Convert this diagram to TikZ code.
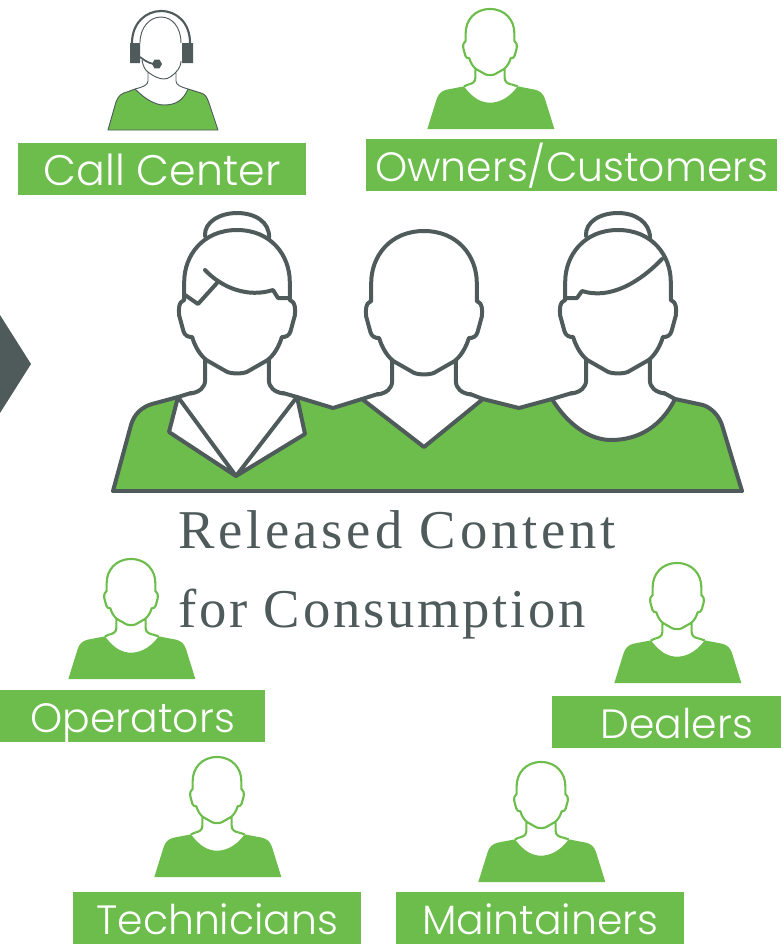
\documentclass[tikz,border=0pt]{standalone}
\usepackage{fontspec}
\newfontfamily\labfont{Poppins Light}
\newfontfamily\titlefonta[LetterSpace=7]{Liberation Serif}
\newfontfamily\titlefontb[LetterSpace=5]{Liberation Serif}
\definecolor{lgreen}{HTML}{6CBD4B}
\definecolor{dgrey}{HTML}{4F5A5B}
\tikzset{
  x=0.75pt,y=-0.75pt,
  lab/.style={fill=lgreen,text=white,font=\labfont\fontsize{30.7}{30.7}\selectfont,inner sep=0pt,anchor=north west,text height=32pt,text depth=7pt,align=center},
  ttl/.style={text=dgrey,inner sep=0pt,anchor=base west},
  bigline/.style={draw=dgrey,line width=3pt,line join=round,line cap=round},
}
% head outline in local units; origin at top of head
\newcommand{\headpath}{(0,0) .. controls (-47,0) and (-73,35) .. (-73,72) -- (-73,97) -- (-75,98) .. controls (-80,100) and (-81,108) .. (-80,118) -- (-74,140) .. controls (-72,146) and (-68,148) .. (-62,148) .. controls (-58,162) and (-50,174) .. (-42,180) -- (-14,196) .. controls (-8,199) and (8,199) .. (14,196) -- (42,180) .. controls (50,174) and (58,162) .. (62,148) .. controls (68,148) and (72,146) .. (74,140) -- (80,118) .. controls (81,108) and (80,100) .. (75,98) -- (73,97) -- (73,72) .. controls (73,35) and (47,0) .. (0,0)}
\newcommand{\necks}{(-44,179) -- (-44,207) .. controls (-44,218) and (-52,224) .. (-64,226) (44,179) -- (44,207) .. controls (44,218) and (52,224) .. (64,226)}
\newcommand{\smallbody}{(-78,232) .. controls (-50,270) and (-25,281) .. (0,281) .. controls (25,281) and (55,270) .. (83,232) -- (135,242) .. controls (150,245) and (160,255) .. (165,270) -- (193,360) -- (-188,360) -- (-160,270) .. controls (-155,255) and (-145,245) .. (-130,242) -- cycle}
\newcommand{\smallperson}[3]{%
  \begin{scope}[shift={(#1,#2)},x=0.25pt,y=-0.25pt]
    \fill[lgreen] \smallbody;
    \draw[#3,line width=1.6pt,line join=round] \headpath \necks;
    \draw[#3,line width=1.6pt,line join=round] (-64,226) -- (-78,232) (64,226) -- (83,232);
  \end{scope}}
\newcommand{\bighead}[2]{%
  \begin{scope}[shift={(#1,#2)},x=0.5425pt,y=-0.5425pt]
    \draw[bigline] \headpath \necks;
  \end{scope}}
\begin{document}
\begin{tikzpicture}
\useasboundingbox (0,0) rectangle (781,951);
% chevron
\fill[dgrey] (0,315) -- (31,364) -- (0,413) -- cycle;
% small people
\smallperson{490}{9}{lgreen}
\smallperson{131}{559}{lgreen}
\smallperson{677}{563}{lgreen}
\smallperson{217}{757}{lgreen}
\smallperson{541}{762}{lgreen}
% call centre person
\begin{scope}[shift={(163,17)}]
  \fill[lgreen,draw=dgrey,line width=0.7pt,line join=round] (-28,72) .. controls (-18,82) and (-8,88) .. (1,88) .. controls (12,88) and (20,84) .. (25,72) -- (38,76) .. controls (42,77) and (44,80) .. (46,86) -- (55,113) -- (-55,113) -- (-47,85) .. controls (-45,79) and (-41,76) .. (-36,75) -- cycle;
  \draw[dgrey,line width=0.7pt,line join=round] (-21,43) .. controls (-20,49) and (-18,53) .. (-15,55) .. controls (-10,59) and (-4,62) .. (1,62) .. controls (6,62) and (10,58) .. (13,55) .. controls (16,52) and (18,48) .. (18,44)
    (-15,55) -- (-15,64) .. controls (-15,68) and (-20,70) .. (-28,72)
    (13,55) -- (13,64) .. controls (13,68) and (18,70) .. (25,72);
  \draw[dgrey,line width=0.7pt] (-23,26) .. controls (-23,10) and (-13,0) .. (-2,0) .. controls (9,0) and (18,10) .. (18,26);
  \draw[dgrey,line width=1.6pt] (-31,26) .. controls (-31,6) and (-17,-6) .. (-2,-6) .. controls (14,-6) and (27,6) .. (27,26);
  \fill[dgrey] (-33,26) rectangle (-23,46) (19,26) rectangle (30,46);
  \draw[dgrey,line width=1.3pt] (-23,40) .. controls (-15,46) and (-12,47) .. (-6,47);
  \fill[dgrey] (-6,47) ++(5,0) -- ++(-2.5,4.3) -- ++(-5,0) -- ++(-2.5,-4.3) -- ++(2.5,-4.3) -- ++(5,0) -- cycle;
\end{scope}
% big people: body
\fill[lgreen] (113,491) -- (131,425) .. controls (134,414) and (142,407) .. (152,404) -- (178,397) -- (169,432) -- (236,476) -- (305,434) -- (297,397) -- (333,408) -- (362,399) -- (424,447) -- (483,399) -- (519,408) -- (552,399) .. controls (568,425) and (590,440) .. (611,440) .. controls (640,440) and (662,425) .. (675,399) -- (703,405) .. controls (712,408) and (719,416) .. (722,425) -- (742,491) -- cycle;
\fill[white] (178,397) -- (169,432) -- (236,476) -- cycle (297,397) -- (305,434) -- (236,476) -- cycle;
\draw[bigline] (297,397) -- (333,408) -- (362,399) -- (424,447) -- (483,399) -- (519,408) -- (552,399) .. controls (568,425) and (590,440) .. (611,440) .. controls (640,440) and (662,425) .. (675,399) -- (703,405) .. controls (712,408) and (719,416) .. (722,425) -- (742,491);
\draw[bigline] (113,491) -- (131,425) .. controls (134,414) and (142,407) .. (152,404) -- (178,397) -- (169,432) -- (236,476) -- (305,434) -- (297,397) -- (236,476) -- (178,397);
\draw[dgrey,line width=3.6pt] (113,491) -- (742,491);
\bighead{237}{230}
\bighead{424}{231}
\bighead{618}{230}
\draw[bigline] (191,393) -- (178,397) (283,393) -- (297,397) (378,394) -- (362,399) (470,394) -- (483,399) (572,393) -- (552,399) (664,393) -- (675,399);
% hair
\draw[bigline] (205,236) .. controls (204,222) and (220,213) .. (237,213) .. controls (255,213) and (270,222) .. (269,238);
\draw[bigline] (205,270) .. controls (222,288) and (248,298) .. (273,290) -- (278,298) -- (290,298);
\draw[bigline] (217,283) -- (198,304) -- (185,295);
\draw[bigline] (586,236) .. controls (585,222) and (600,213) .. (618,213) .. controls (635,213) and (650,222) .. (650,238);
\draw[bigline] (662,259) .. controls (640,282) and (610,300) .. (582,291) -- (577,298) -- (566,298);
% labels
\node[lab,minimum width=216pt,minimum height=39pt,font=\labfont\fontsize{32}{32}\selectfont] (callcenter) at (18,143) {Call Center};
\node[lab,minimum width=308.25pt,minimum height=39pt] (owners) at (366,139) {Owners/Customers};
\node[lab,minimum width=198.75pt,minimum height=39pt] (operators) at (0,690) {Operators};
\node[lab,minimum width=171.75pt,minimum height=39pt] (dealers) at (552,696) {\hspace*{15pt}Dealers};
\node[lab,minimum width=216pt,minimum height=39pt] (technicians) at (73,892) {Technicians};
\node[lab,minimum width=216pt,minimum height=39pt] (maintainers) at (396,892) {Maintainers};
% title
\node[ttl,font=\titlefonta\fontsize{41}{41}\selectfont] (title1) at (178,548) {Released Content};
\node[ttl,font=\titlefontb\fontsize{41}{41}\selectfont] (title2) at (178,627) {for Consumption};
\end{tikzpicture}
\end{document}
